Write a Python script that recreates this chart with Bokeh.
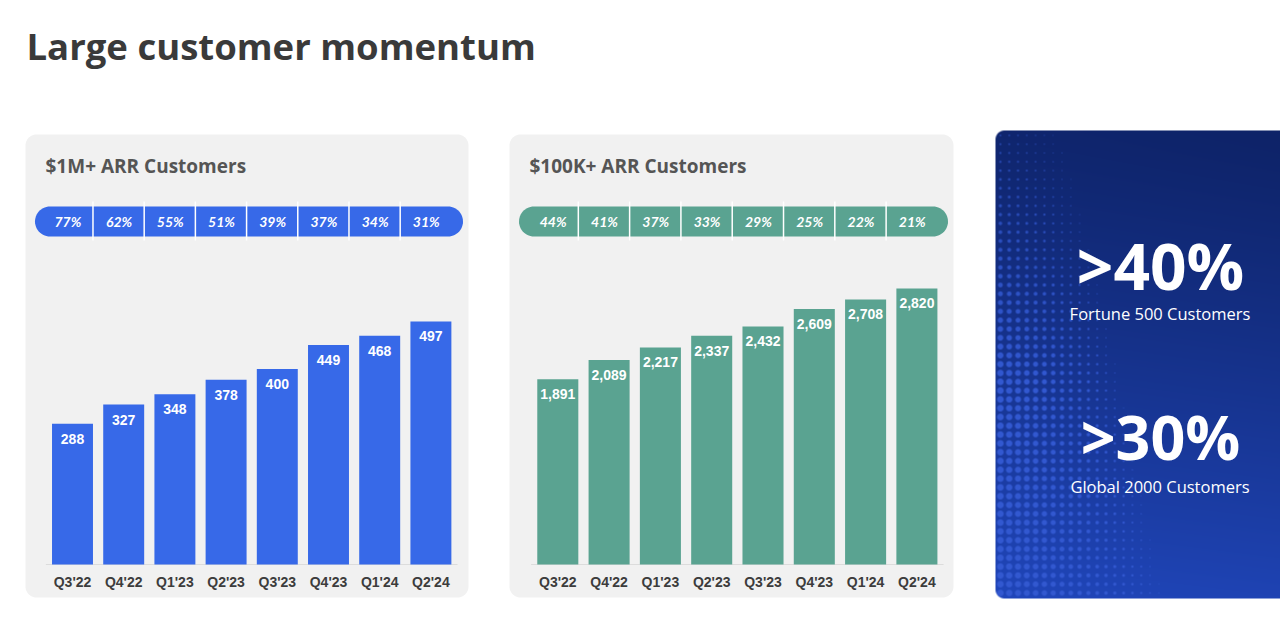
import numpy as np
from bokeh.plotting import figure
from bokeh.models import Range1d
from bokeh.core.properties import value
from bokeh.embed import file_html
from bokeh.resources import INLINE

# ---------------- data ----------------
title = "Large customer momentum"
quarters = ["Q3'22", "Q4'22", "Q1'23", "Q2'23", "Q3'23", "Q4'23", "Q1'24", "Q2'24"]
m1_title = "$1M+ ARR Customers"
m1_customers = [288, 327, 348, 378, 400, 449, 468, 497]
m1_growth = ["77%", "62%", "55%", "51%", "39%", "37%", "34%", "31%"]
k100_title = "$100K+ ARR Customers"
k100_customers = [1891, 2089, 2217, 2337, 2432, 2609, 2708, 2820]
k100_growth = ["44%", "41%", "37%", "33%", "29%", "25%", "22%", "21%"]
stats = [">40%", ">30%"]
stat_labels = ["Fortune 500 Customers", "Global 2000 Customers"]

# ---------------- page geometry (screen px) ----------------
W_FIG, H_FIG = 1280, 621
OX, OY = 0, 0


def Y(sy):
    return OY + H_FIG - sy


def rrect(x0, y0, x1, y1, r):
    pts = []

    def arc(cx, cy, a0, a1):
        a = np.linspace(a0, a1, 14)
        return list(zip(cx + r * np.cos(a), cy + r * np.sin(a)))

    pts += arc(x0 + r, y0 + r, np.pi, 1.5 * np.pi)
    pts += arc(x1 - r, y0 + r, 1.5 * np.pi, 2 * np.pi)
    pts += arc(x1 - r, y1 - r, 0, 0.5 * np.pi)
    pts += arc(x0 + r, y1 - r, 0.5 * np.pi, np.pi)
    return [p[0] for p in pts], [Y(p[1]) for p in pts]


p = figure(width=W_FIG, height=H_FIG, output_backend="svg", toolbar_location=None,
           x_range=Range1d(OX, OX + W_FIG), y_range=Range1d(0, H_FIG),
           x_axis_location=None, y_axis_location=None, title=None,
           min_border=0, outline_line_color=None, background_fill_color="white",
           border_fill_color="white")
p.grid.visible = False


def add_ranges(name, c0, spacing, k, zero_sy=564.0):
    xs = (OX - c0) / spacing
    p.extra_x_ranges[name + "x"] = Range1d(xs, xs + W_FIG / spacing)
    ys = -(OY + H_FIG - zero_sy) / k
    p.extra_y_ranges[name + "y"] = Range1d(ys, ys + H_FIG / k)


add_ranges("l", 72.0, 51.2, 0.489)
add_ranges("m", 557.3, 51.3, 0.0979)

TEXT_FONT = value("Open Sans")
NUM_FONT = value("Liberation Sans")

# title
p.text(x=[26], y=[Y(45.5)], text=[title], text_font=TEXT_FONT, text_font_size="36.5px",
       text_font_style="bold", text_color="#3a3a3a", text_baseline="middle")


def chart(name, px0, px1, ttl, vals, growth, color):
    xr, yr = name + "x", name + "y"
    xs, ys = rrect(px0, 134, px1, 597, 11)
    p.patch(xs, ys, fill_color="#f1f1f1", line_color=None)
    p.text(x=[px0 + 20], y=[Y(165)], text=[ttl], text_font=TEXT_FONT, text_font_size="19px",
           text_font_style="bold", text_color="#555555", text_baseline="middle")
    # growth pill
    xs, ys = rrect(px0 + 9.5, 206, px1 - 5.5, 236, 15)
    p.patch(xs, ys, fill_color=color, line_color=None)
    idx = np.arange(len(vals))
    p.segment(x0=idx[:-1] + 0.4, x1=idx[:-1] + 0.4, y0=[Y(201)] * 7, y1=[Y(240)] * 7,
              x_range_name=xr, line_color="white", line_width=1.5)
    p.text(x=idx - 0.09, y=[Y(221)] * len(vals), text=growth, x_range_name=xr,
           text_font=value("Lato"), text_font_size="14px", text_font_style="bold italic",
           text_color="white", text_align="center", text_baseline="middle")
    # baseline
    p.segment(x0=[-0.52], x1=[7.52], y0=[0], y1=[0], x_range_name=xr, y_range_name=yr,
              line_color="#dcdcdc", line_width=1)
    # bars
    p.vbar(x=idx, top=vals, bottom=0, width=0.8, x_range_name=xr, y_range_name=yr,
           fill_color=color, line_color=None)
    p.text(x=idx, y=vals, text=[f"{v:,}" for v in vals], x_range_name=xr, y_range_name=yr,
           y_offset=15, text_font=NUM_FONT, text_font_size="14px", text_font_style="bold",
           text_color="white", text_align="center", text_baseline="middle")
    p.text(x=idx, y=[0] * len(vals), text=quarters, x_range_name=xr, y_range_name=yr,
           y_offset=17, text_font=NUM_FONT, text_font_size="14px", text_font_style="bold",
           text_color="#3c3c3c", text_align="center", text_baseline="middle")


chart("l", 25, 468, m1_title, m1_customers, m1_growth, "#3769e8")
chart("m", 509, 953, k100_title, k100_customers, k100_growth, "#5aa391")

# ---------------- right panel background (decorative image) ----------------
PX0, PY0, PY1 = 995, 130, 598
PW, PH = OX + W_FIG - PX0, PY1 - PY0
vv, uu = np.mgrid[0:PH, 0:PW].astype(float)
uu += 0.5
vv += 0.5
ty = vv / PH
tx = uu / PW
c0 = np.array([14.0, 35.0, 104.0])
c1 = np.array([32.0, 70.0, 186.0])
t = np.clip(0.92 * ty ** 1.15 + 0.08 * (1 - tx), 0, 1)
base = c0 + (c1 - c0) * t[..., None]
sp = 8.8
cu = (np.floor((uu - 0.5) / sp) + 0.5) * sp + 0.5
cv = (np.floor((vv - 0.5) / sp) + 0.5) * sp + 0.5
d = np.hypot(uu - cu, vv - cv)
extent = 75 + 95 * cv / PH
f = np.clip(1 - cu / extent, 0, 1)
rmax = 0.9 + 2.5 * np.clip(cv / 250.0, 0, 1)
r = rmax * f ** 0.6
cov = np.clip(r - d + 0.5, 0, 1) * (r > 0.35)
a = cov * (0.6 + 0.4 * np.clip(cv / 250.0, 0, 1))
dot = np.array([50.0, 88.0, 208.0])
col = base * (1 - a[..., None]) + dot * a[..., None]
alpha = np.full((PH, PW), 255.0)
rad = 9.0
for cy in (rad, PH - rad):
    m = (uu < rad) & (np.abs(vv - cy) < rad + 0.01) & (((vv < rad) & (cy == rad)) | ((vv > PH - rad) & (cy != rad)))
    dd = np.hypot(uu - rad, vv - cy)
    alpha = np.where(m, np.clip(rad - dd + 0.5, 0, 1) * 255, alpha)
img = np.empty((PH, PW), dtype=np.uint32)
view = img.view(dtype=np.uint8).reshape((PH, PW, 4))
view[..., 0] = col[..., 0].astype(np.uint8)
view[..., 1] = col[..., 1].astype(np.uint8)
view[..., 2] = col[..., 2].astype(np.uint8)
view[..., 3] = alpha.astype(np.uint8)
img = np.flipud(img).copy()
p.image_rgba(image=[img], x=PX0, y=Y(PY1), dw=PW, dh=PH)

# stats
p.text(x=[1160, 1160], y=[Y(265), Y(436)], text=stats, text_font=TEXT_FONT,
       text_font_size=["64px", "61px"], text_font_style="bold", text_color="white",
       text_align="center", text_baseline="middle")
p.text(x=[1159.5, 1159.5], y=[Y(313), Y(485.5)], text=stat_labels, text_font=TEXT_FONT,
       text_font_size="16.5px", text_color="white", text_align="center",
       text_baseline="middle")

open("out.html", "w").write(file_html(p, INLINE))
